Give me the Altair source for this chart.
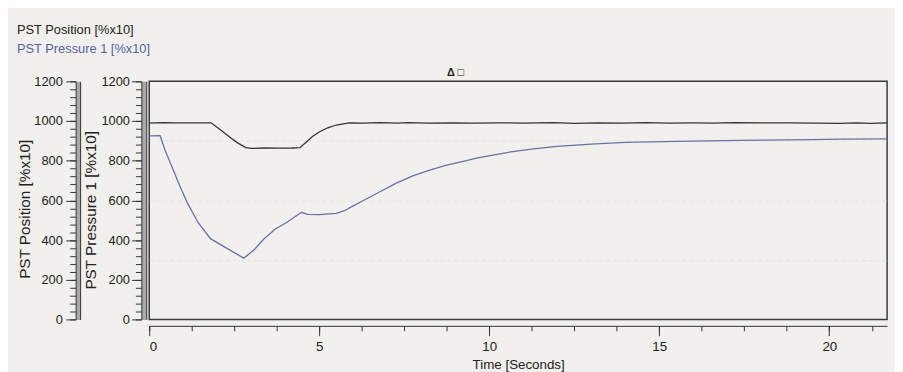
import altair as alt
import pandas as pd

# ---- data ----
pos_t = [0, 0.4, 0.8, 1.2, 1.6, 1.82, 2.1, 2.4, 2.6, 2.84, 3.0, 3.4, 3.8, 4.2, 4.43,
         4.63, 4.8, 5.01, 5.25, 5.5, 5.88, 6.3, 6.8, 7.3, 7.6, 8.2, 8.9, 9.5, 10.3, 11.0,
         11.9, 12.5, 13.2, 13.9, 14.6, 15.3, 16.0, 16.6, 17.2, 18.0, 18.8, 19.6, 20.3,
         20.8, 21.2, 21.7]
pos_v = [990, 992, 991, 991, 991, 991, 955, 915, 890, 866, 862, 864, 863, 864, 866,
         896, 922, 946, 966, 980, 991, 990, 992, 990, 992, 990, 991, 989, 991, 990,
         992, 988, 991, 989, 992, 990, 991, 990, 992, 991, 991, 990, 988, 991, 988, 991]

pres_t = [0, 0.32, 0.46, 0.66, 0.9, 1.14, 1.43, 1.8, 2.3, 2.78, 3.08, 3.37, 3.72, 4.05,
          4.48, 4.65, 5.0, 5.5, 5.74, 6.0, 6.27, 6.8, 7.25, 7.73, 8.2, 8.69, 9.2, 9.66,
          10.15, 10.63, 11.3, 12.0, 13.0, 14.0, 15.5, 17.4, 19.5, 20.4, 21.7]
pres_v = [925, 926, 855, 772, 672, 581, 490, 407, 357, 309, 350, 405, 457, 490,
          540, 530, 528, 535, 548, 572, 597, 645, 686, 722, 750, 775, 796, 814,
          830, 844, 860, 872, 884, 892, 898, 903, 906, 909, 910]

y_major = [0, 200, 400, 600, 800, 1000, 1200]
y_minor = list(range(0, 1201, 40))
y_grid = [300, 600, 900]
x_major = [0, 5, 10, 15, 20]
x_minor = [i * 1.25 for i in range(0, 18)]
icons = ["Δ", "□"]

pos_df = pd.DataFrame({"t": pos_t, "v": pos_v})
pres_df = pd.DataFrame({"t": pres_t, "v": pres_v})

FONT = "Liberation Sans"
DARK = "#333333"
BLUE = "#6a6fae"
XDOM = [0, 21.7]
YDOM = [0, 1200]


def X(axis):
    return alt.X("t:Q", scale=alt.Scale(domain=XDOM, nice=False, zero=False), axis=axis)


def Y(axis):
    return alt.Y("v:Q", scale=alt.Scale(domain=YDOM, nice=False), axis=axis)


def yax(**kw):
    base = dict(orient="left", grid=False, labels=False, ticks=False, domain=False, title=None)
    base.update(kw)
    return alt.Axis(**base)


def ghost(yaxis, xaxis=None):
    return alt.Chart(pres_df).mark_line(opacity=0).encode(x=X(xaxis), y=Y(yaxis))


# grid (faint dashed)
grid = ghost(yax(grid=True, values=y_grid, gridColor="#e6e5e1", gridDash=[4, 3], gridWidth=1))

# pressure axis pieces
pres_bar = ghost(yax(domain=True, domainColor="#a9a9a9", domainWidth=5, offset=5.5))
pres_edge = ghost(yax(domain=True, domainColor=DARK, domainWidth=1, offset=3))
pres_minor = ghost(yax(ticks=True, values=y_minor, tickSize=6, tickColor=DARK, offset=8))

# position axis pieces
pos_bar = ghost(yax(domain=True, domainColor="#a9a9a9", domainWidth=4.5, offset=72.25))
pos_edge = ghost(yax(domain=True, domainColor=DARK, domainWidth=1, offset=70))
pos_minor = ghost(yax(ticks=True, values=y_minor, tickSize=6, tickColor=DARK, offset=74.5))

# x minor ticks
x_minor_layer = ghost(
    yax(),
    alt.Axis(orient="bottom", values=x_minor, labels=False, domain=False, ticks=True,
             tickSize=5, tickColor=DARK, grid=False, title=None, offset=6.5),
)

pres_line = alt.Chart(pres_df).mark_line(color=BLUE, strokeWidth=1.3).encode(
    x=X(alt.Axis(orient="bottom", values=x_major, offset=6.5, tickSize=10, tickColor=DARK,
                 domainColor=DARK, domainWidth=1, labelFontSize=13.5, labelPadding=4,
                 title="Time [Seconds]", titleFontSize=13.5, titleFontWeight="normal",
                 titlePadding=5, grid=False, format="d")),
    y=Y(alt.Axis(orient="left", values=y_major, offset=8, tickSize=10, tickColor=DARK,
                 domainColor=DARK, domainWidth=1, labelFontSize=13, labelPadding=2,
                 title="PST Pressure 1 [%x10]", titleFontSize=15.5, titleFontWeight="normal",
                 titlePadding=2, titleY=130, grid=False, format="d")),
)

pos_line = alt.Chart(pos_df).mark_line(color=DARK, strokeWidth=1.3).encode(
    x=X(None),
    y=Y(alt.Axis(orient="left", values=y_major, offset=74.5, tickSize=10, tickColor=DARK,
                 domainColor=DARK, domainWidth=1, labelFontSize=13, labelPadding=3.5,
                 title="PST Position [%x10]", titleFontSize=15.5, titleFontWeight="normal",
                 titlePadding=1, titleY=129, grid=False, format="d")),
)

icon_df = pd.DataFrame({"s": icons, "k": [0, 1]})
icon_layer = alt.Chart(icon_df).mark_text(fontSize=11, fontWeight="bold", color="#222", font=FONT).encode(
    x=alt.X("k:Q", scale=alt.Scale(domain=[0, 1], range=[305.5, 315.5]), axis=None),
    y=alt.value(-8),
    text="s:N",
)

chart = (
    alt.layer(grid, pres_bar, pos_bar, pres_edge, pos_edge, pres_minor, pos_minor,
              x_minor_layer, pres_line, pos_line, icon_layer)
    .resolve_scale(x="independent", y="independent")
    .properties(
        width=747,
        height=241,
        padding={"left": 9, "top": 14, "right": 5, "bottom": 0},
        title=alt.TitleParams(
            text="PST Position [%x10]",
            subtitle="PST Pressure 1 [%x10]",
            anchor="start",
            frame="bounds",
            fontSize=13,
            subtitleFontSize=13,
            fontWeight="normal",
            color="#222222",
            subtitleColor="#5661a8",
            subtitlePadding=6,
            offset=12,
            dx=-1,
            font=FONT,
            subtitleFont=FONT,
        ),
    )
    .configure(background="#f1f0ec")
    .configure_view(stroke="#3a3a3a", strokeWidth=1.5)
    .configure_axis(labelFont=FONT, titleFont=FONT, labelColor="#222222", titleColor="#222222")
)

chart.save("out.html", embed_options={"renderer": "svg", "actions": False})
